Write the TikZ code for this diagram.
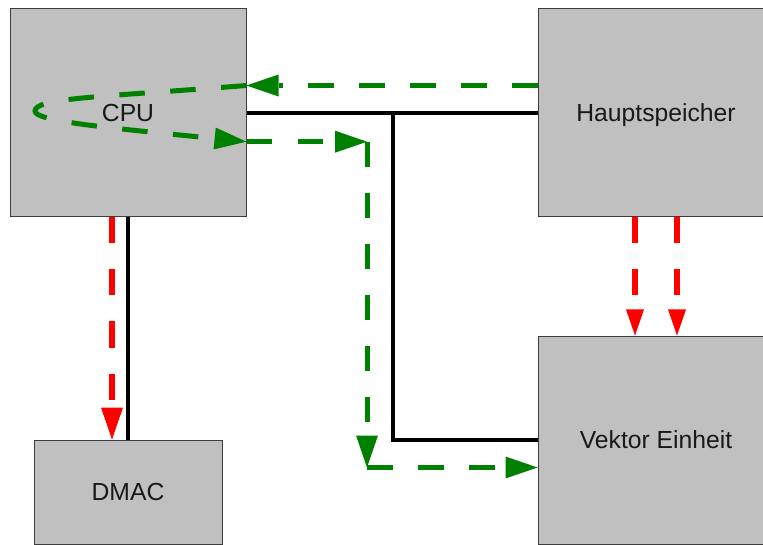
\documentclass[tikz,border=0pt]{standalone}
\usepackage{fontspec}
\newfontfamily\labfont{Liberation Sans}
\usetikzlibrary{arrows.meta}
\definecolor{boxfill}{RGB}{192,192,192}
\definecolor{boxline}{RGB}{60,60,60}
\definecolor{flowgreen}{RGB}{0,128,0}
\definecolor{flowred}{RGB}{255,0,0}
\tikzset{
  unitbox/.style={draw=boxline, fill=boxfill, line width=1pt, inner sep=0pt,
    text height=17.7pt, text depth=0pt,
    font=\labfont\fontsize{24.7}{29}\selectfont, text=black!90},
  busline/.style={line width=4.5pt, black},
  gflow/.style={draw=flowgreen, line width=5pt, dash pattern=on 25.5pt off 25.5pt,
    -{Triangle[length=32pt,width=22pt,line width=0pt 0]}},
  rflow/.style={draw=flowred, line width=6pt, dash pattern=on 26pt off 26pt},
  rbig/.style={rflow, -{Triangle[length=32pt,width=22pt,line width=0pt 0]}},
  rsmall/.style={rflow, -{Triangle[length=26pt,width=18pt,line width=0pt 0]}}
}
\begin{document}
\begin{tikzpicture}[x=1pt,y=-1pt]
\clip (0,0) rectangle (763,545);
\fill[white] (0,0) rectangle (763,545);
\node[unitbox, minimum width=236pt, minimum height=208pt] (cpu) at (128,113) {CPU};
\node[unitbox, minimum width=236pt, minimum height=208pt] (hs) at (656,113) {Hauptspeicher};
\node[unitbox, minimum width=236pt, minimum height=208pt] (ve) at (656,440) {Vektor Einheit};
\node[unitbox, minimum width=188pt, minimum height=104pt] (dmac) at (128,492) {DMAC};
\coordinate (j) at (393,113);
\coordinate (gc1) at (367,141.7);
\coordinate (gc2) at (367,467.5);
\coordinate (lp) at (35,111);
% black buses
\draw[busline] (cpu.east) -- (hs.west);
\draw[busline] (j) |- (ve.west);
\draw[busline] (cpu.south) -- (dmac.north);
% red flows
\draw[rbig] ([xshift=-16pt]cpu.south) -- ([xshift=-16pt]dmac.north);
\draw[rsmall] ([xshift=-21pt]hs.south) -- ([xshift=-21pt]ve.north);
\draw[rsmall] ([xshift=21pt]hs.south) -- ([xshift=21pt]ve.north);
% green flows
\draw[gflow] ([yshift=27.5pt]hs.west) -- ([yshift=27.5pt]cpu.east);
\draw[gflow] ([yshift=27.5pt]cpu.east) .. controls (100,97) and (35,98) .. (lp)
   .. controls (35,121) and (100,127) .. ([yshift=-28.7pt]cpu.east);
\draw[gflow] ([yshift=-28.7pt]cpu.east) -- (gc1);
\draw[gflow] (gc1) -- (gc2);
\draw[gflow] (gc2) -- (gc2 -| ve.west);
\end{tikzpicture}
\end{document}
